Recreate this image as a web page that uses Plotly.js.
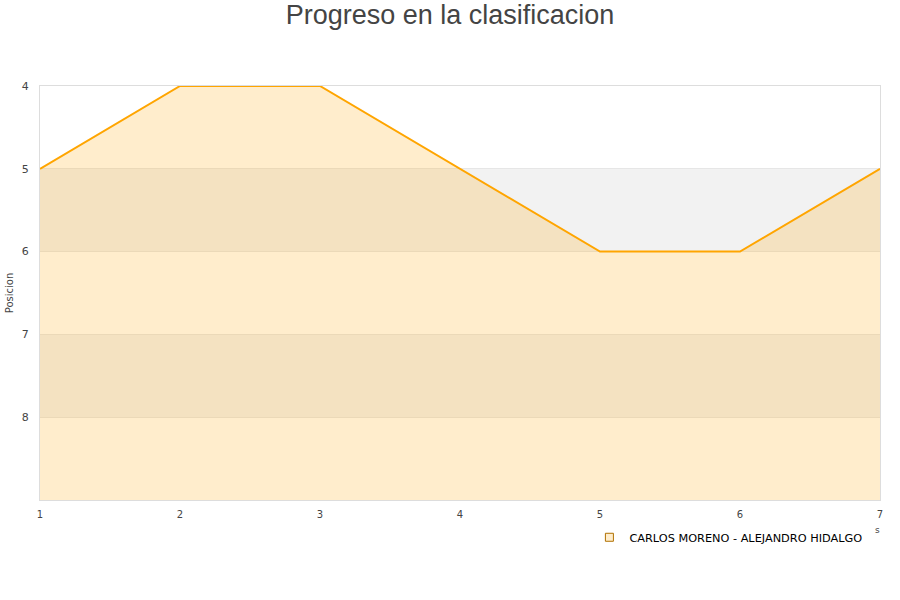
<!DOCTYPE html>
<html><head><meta charset="utf-8">
<script src="https://cdn.plot.ly/plotly-3.0.1.min.js"></script>
<style>body{margin:0}#c{width:900px;height:600px}</style>
</head><body><div id="c"></div>
<script>
const jornadas = [1, 2, 3, 4, 5, 6, 7];
const posicion = [5, 4, 4, 5, 6, 6, 5];
const seriesName = 'CARLOS MORENO - ALEJANDRO HIDALGO';
const yTicks = [4, 5, 6, 7, 8];
const yMin = 4, yMax = 9;

const bands = [];
for (let y = yMin; y < yMax; y++) {
  if ((y - yMin) % 2 === 1) {
    bands.push({type:'rect', xref:'paper', yref:'y', x0:0, x1:1, y0:y, y1:y+1,
      fillcolor:'#f2f2f2', line:{width:0}, layer:'below'});
  }
}

const data = [
  {x: jornadas, y: jornadas.map(() => yMax), mode:'lines', line:{width:0},
   showlegend:false, hoverinfo:'skip'},
  {x: jornadas, y: posicion, mode:'lines', fill:'tonexty',
   fillcolor:'rgba(255,165,0,0.2)', line:{color:'#ffa500', width:2},
   showlegend:false, name: seriesName},
  {x:[null], y:[null], mode:'markers', name: seriesName,
   marker:{symbol:'square', size:8, color:'rgba(255,165,0,0.2)', line:{color:'#b07000', width:1}}}
];

const layout = {
  width:900, height:600,
  margin:{l:40, r:20, t:86, b:100},
  paper_bgcolor:'#ffffff', plot_bgcolor:'#ffffff',
  font:{family:'"DejaVu Sans", sans-serif', size:11, color:'#444'},
  title:{text:'Progreso en la clasificacion', x:0.5, xanchor:'center', y:0.992, yanchor:'top',
    font:{family:'"Liberation Sans", Arial, sans-serif', size:27, color:'#444'}},
  xaxis:{range:[1,7], tickvals: jornadas, showgrid:false, zeroline:false,
    showline:true, linecolor:'#dddddd', mirror:true, ticks:'', tickfont:{size:10},
    ticklabelstandoff:5},
  yaxis:{range:[yMax, yMin], tickvals: yTicks, showgrid:true, gridcolor:'#e6e6e6',
    zeroline:false, showline:true, linecolor:'#dddddd', mirror:true, ticks:'',
    tickfont:{size:11}, ticklabelstandoff:8,
    title:{text:'Posicion', font:{size:10, color:'#444'}, standoff:6}},
  shapes: bands,
  showlegend:true,
  legend:{orientation:'h', x:0.985, xanchor:'right', y:-0.055, yanchor:'top',
    font:{family:'"DejaVu Sans", sans-serif', size:11.3, color:'#000'}, itemwidth:30},
  annotations:[{text:'s', xref:'paper', yref:'paper', x:0.997, y:-0.09, showarrow:false,
    xanchor:'center', font:{size:9, color:'#444'}}]
};

Plotly.newPlot('c', data, layout, {displayModeBar:false, staticPlot:true});
</script></body></html>
